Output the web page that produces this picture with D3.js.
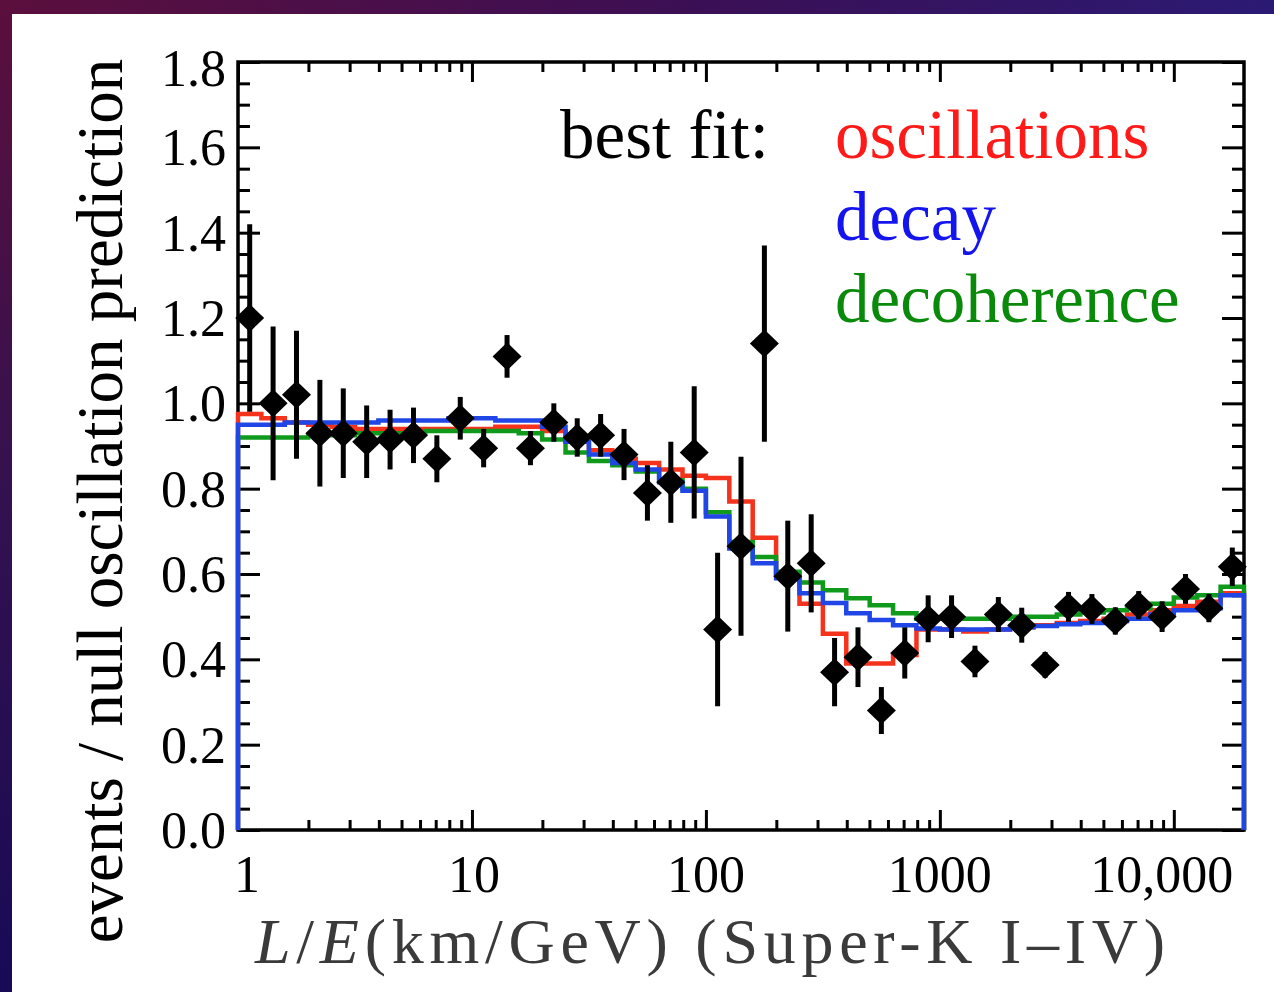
<!DOCTYPE html>
<html>
<head>
<meta charset="utf-8">
<script src="https://cdn.jsdelivr.net/npm/d3@7"></script>
<style>
  html, body { margin: 0; padding: 0; background: #fff; }
  svg { display: block; }
  text { font-family: "Liberation Serif", "DejaVu Serif", serif; }
</style>
</head>
<body>
<div id="chart"></div>
<script>
// L/E bin edges (km/GeV), 10 bins per decade
const binEdges = [1, 1.259, 1.585, 1.995, 2.512, 3.162, 3.981, 5.012, 6.310, 7.943,
  10, 12.59, 15.85, 19.95, 25.12, 31.62, 39.81, 50.12, 63.10, 79.43,
  100, 125.9, 158.5, 199.5, 251.2, 316.2, 398.1, 501.2, 631.0, 794.3,
  1000, 1259, 1585, 1995, 2512, 3162, 3981, 5012, 6310, 7943,
  10000, 12589, 15849, 19953];

// data / null oscillation prediction
const dataRatio = [1.20, 1.00, 1.02, 0.93, 0.93, 0.91, 0.915, 0.925, 0.87, 0.965,
  0.895, 1.11, 0.895, 0.955, 0.92, 0.925, 0.88, 0.79, 0.815, 0.885,
  0.47, 0.665, 1.14, 0.595, 0.625, 0.37, 0.405, 0.28, 0.415, 0.495,
  0.50, 0.395, 0.505, 0.48, 0.387, 0.523, 0.518, 0.49, 0.527, 0.50,
  0.565, 0.52, 0.617];
const dataErr = [0.22, 0.18, 0.15, 0.125, 0.105, 0.085, 0.07, 0.065, 0.055, 0.05,
  0.045, 0.05, 0.04, 0.045, 0.045, 0.05, 0.06, 0.065, 0.095, 0.155,
  0.18, 0.21, 0.23, 0.13, 0.115, 0.08, 0.07, 0.055, 0.06, 0.055,
  0.05, 0.037, 0.041, 0.041, 0.03, 0.035, 0.035, 0.032, 0.033, 0.036,
  0.035, 0.033, 0.045];

// best-fit predictions per bin
const oscillations = [0.975, 0.965, 0.955, 0.95, 0.945, 0.94, 0.94, 0.94, 0.94, 0.94,
  0.94, 0.945, 0.945, 0.935, 0.91, 0.89, 0.87, 0.86, 0.845, 0.83,
  0.825, 0.77, 0.685, 0.60, 0.53, 0.46, 0.39, 0.39, 0.41, 0.47,
  0.47, 0.465, 0.47, 0.475, 0.48, 0.485, 0.49, 0.495, 0.505, 0.515,
  0.525, 0.535, 0.555];
const decay = [0.95, 0.95, 0.955, 0.955, 0.955, 0.955, 0.96, 0.96, 0.96, 0.965,
  0.965, 0.96, 0.96, 0.945, 0.91, 0.88, 0.86, 0.845, 0.815, 0.795,
  0.735, 0.66, 0.625, 0.59, 0.555, 0.532, 0.508, 0.492, 0.48, 0.472,
  0.47, 0.47, 0.47, 0.475, 0.478, 0.482, 0.485, 0.49, 0.495, 0.505,
  0.515, 0.52, 0.55];
const decoherence = [0.92, 0.92, 0.92, 0.925, 0.925, 0.93, 0.93, 0.93, 0.935, 0.935,
  0.935, 0.935, 0.93, 0.915, 0.885, 0.865, 0.855, 0.84, 0.82, 0.80,
  0.745, 0.675, 0.64, 0.605, 0.58, 0.562, 0.543, 0.527, 0.508, 0.495,
  0.495, 0.495, 0.495, 0.50, 0.50, 0.505, 0.51, 0.515, 0.52, 0.53,
  0.545, 0.55, 0.57];

const xMajor = [1, 10, 100, 1000, 10000];
const xLabels = ['1', '10', '100', '1000', '10,000'];
const yMajor = [0, 0.2, 0.4, 0.6, 0.8, 1.0, 1.2, 1.4, 1.6, 1.8];

const W = 1274, H = 992;
const svg = d3.select('#chart').append('svg')
  .attr('width', W).attr('height', H);

// dark slide background around the white panel
const defs = svg.append('defs');
const gTop = defs.append('linearGradient').attr('id', 'gTop');
gTop.append('stop').attr('offset', '0%').attr('stop-color', '#5b0f3d');
gTop.append('stop').attr('offset', '55%').attr('stop-color', '#3b0f55');
gTop.append('stop').attr('offset', '100%').attr('stop-color', '#2b1a74');
const gLeft = defs.append('linearGradient').attr('id', 'gLeft')
  .attr('x1', 0).attr('y1', 0).attr('x2', 0).attr('y2', 1);
gLeft.append('stop').attr('offset', '0%').attr('stop-color', '#5b0f3d');
gLeft.append('stop').attr('offset', '50%').attr('stop-color', '#33114f');
gLeft.append('stop').attr('offset', '100%').attr('stop-color', '#180a56');
svg.append('rect').attr('width', W).attr('height', H).attr('fill', '#fff');
svg.append('rect').attr('width', W).attr('height', 14).attr('fill', 'url(#gTop)');
svg.append('rect').attr('width', 12).attr('height', H).attr('fill', 'url(#gLeft)');

const x = d3.scaleLog().domain([1, 19953]).range([238, 1244]);
const y = d3.scaleLinear().domain([0, 1.8]).range([830, 62]);

// minor ticks
const xMinor = [];
xMajor.forEach(d => { for (let k = 2; k <= 9; k++) if (d * k <= 19953) xMinor.push(d * k); });
const yMinor = d3.range(0, 37).map(i => i * 0.05).filter(v => Math.abs(v * 5 - Math.round(v * 5)) > 1e-6);

const axisG = svg.append('g').attr('class', 'axes');
function addAxis(axis, transform) {
  const g = axisG.append('g').attr('transform', transform).call(axis);
  g.select('.domain').remove();
  g.selectAll('line').attr('stroke', '#000').attr('stroke-width', 3);
  g.selectAll('text').remove();
}
addAxis(d3.axisBottom(x).tickValues(xMajor).tickSize(-20), 'translate(0,830)');
addAxis(d3.axisBottom(x).tickValues(xMinor).tickSize(-10), 'translate(0,830)');
addAxis(d3.axisTop(x).tickValues(xMajor).tickSize(-20), 'translate(0,62)');
addAxis(d3.axisTop(x).tickValues(xMinor).tickSize(-10), 'translate(0,62)');
addAxis(d3.axisLeft(y).tickValues(yMajor).tickSize(-22), 'translate(238,0)');
addAxis(d3.axisLeft(y).tickValues(yMinor).tickSize(-12), 'translate(238,0)');
addAxis(d3.axisRight(y).tickValues(yMajor).tickSize(-22), 'translate(1244,0)');
addAxis(d3.axisRight(y).tickValues(yMinor).tickSize(-12), 'translate(1244,0)');

// frame
svg.append('rect')
  .attr('x', 238).attr('y', 62).attr('width', 1244 - 238).attr('height', 830 - 62)
  .attr('fill', 'none').attr('stroke', '#000').attr('stroke-width', 3.5);

// tick labels
svg.append('g').selectAll('text').data(xMajor).join('text')
  .attr('x', (d, i) => x(d) + [9, 2, 0, 0, -12][i])
  .attr('y', 892)
  .attr('text-anchor', 'middle')
  .attr('font-size', 52)
  .text((d, i) => xLabels[i]);
svg.append('g').selectAll('text').data(yMajor).join('text')
  .attr('x', 226)
  .attr('y', d => y(d) + 18 + (d === 1.8 ? 6 : 0))
  .attr('text-anchor', 'end')
  .attr('font-size', 52)
  .text(d => d3.format('.1f')(d));

// prediction histograms
const stepLine = d3.line().x(d => x(d[0])).y(d => y(d[1])).curve(d3.curveStepAfter);
function histPoints(vals) {
  const pts = [[binEdges[0], 0]];
  vals.forEach((v, i) => pts.push([binEdges[i], v]));
  pts.push([binEdges[binEdges.length - 1], 0]);
  return pts;
}
const curves = [
  { values: oscillations, color: '#f5331c' },
  { values: decoherence, color: '#0f9a1c' },
  { values: decay, color: '#2146e6' }
];
svg.append('g').selectAll('path').data(curves).join('path')
  .attr('d', d => stepLine(histPoints(d.values)))
  .attr('fill', 'none')
  .attr('stroke', d => d.color)
  .attr('stroke-width', 4.5);

// data points with error bars
const centers = dataRatio.map((v, i) => Math.sqrt(binEdges[i] * binEdges[i + 1]));
const pts = svg.append('g');
pts.selectAll('line').data(dataRatio).join('line')
  .attr('x1', (d, i) => x(centers[i])).attr('x2', (d, i) => x(centers[i]))
  .attr('y1', (d, i) => y(d + dataErr[i])).attr('y2', (d, i) => y(d - dataErr[i]))
  .attr('stroke', '#000').attr('stroke-width', 5);
pts.selectAll('path').data(dataRatio).join('path')
  .attr('transform', (d, i) => `translate(${x(centers[i])},${y(d)})`)
  .attr('d', 'M0,-14L14.5,0L0,14L-14.5,0Z')
  .attr('fill', '#000');

// legend
const legend = svg.append('g').attr('font-size', 69);
legend.append('text').attr('x', 560).attr('y', 158).attr('fill', '#000').text('best fit:');
legend.append('text').attr('x', 835).attr('y', 158).attr('fill', '#ff1a1a').text('oscillations');
legend.append('text').attr('x', 835).attr('y', 240).attr('fill', '#1414ee').text('decay');
legend.append('text').attr('x', 835).attr('y', 322).attr('fill', '#0a8a0a').text('decoherence');

// axis titles
svg.append('text')
  .attr('transform', 'translate(122,501) rotate(-90)')
  .attr('text-anchor', 'middle')
  .attr('font-size', 65)
  .attr('fill', '#000')
  .text('events / null oscillation prediction');

const xt = svg.append('text')
  .attr('x', 255).attr('y', 963)
  .attr('font-size', 64)
  .attr('fill', '#3a3a3a')
  .attr('textLength', 910)
  .attr('lengthAdjust', 'spacing');
xt.append('tspan').attr('font-style', 'italic').text('L');
xt.append('tspan').text('/');
xt.append('tspan').attr('font-style', 'italic').text('E');
xt.append('tspan').text('(km/GeV) (Super-K I–IV)');
</script>
</body>
</html>
